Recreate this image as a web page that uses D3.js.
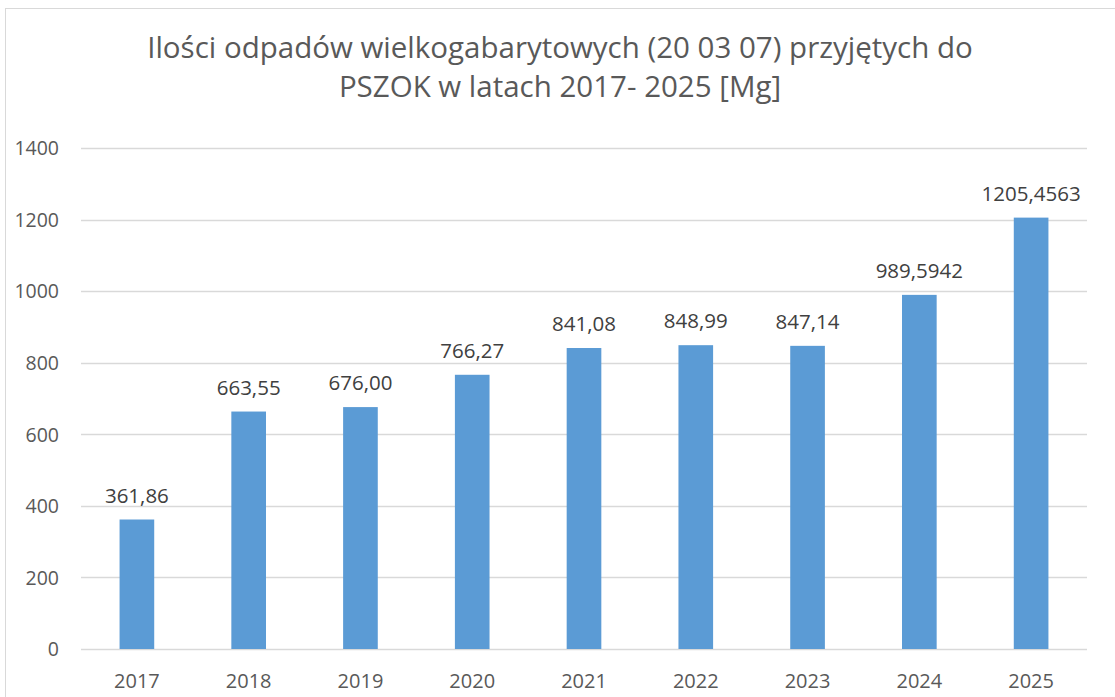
<!DOCTYPE html>
<html lang="pl">
<head>
<meta charset="UTF-8">
<title>Ilości odpadów wielkogabarytowych</title>
<style>
    body { margin: 0; padding: 0; background: #fff; overflow: hidden; }
    svg text { font-family: "Open Sans", "Noto Sans", sans-serif; fill: #595959; }
</style>
</head>
<body>
<script src="https://d3js.org/d3.v7.min.js"></script>
<script>
    // dane
    const years = ["2017", "2018", "2019", "2020", "2021", "2022", "2023", "2024", "2025"];
    const amounts = [361.86, 663.55, 676.00, 766.27, 841.08, 848.99, 847.14, 989.5942, 1205.4563];
    const amountLabels = ["361,86", "663,55", "676,00", "766,27", "841,08", "848,99", "847,14", "989,5942", "1205,4563"];
    const yTicks = [0, 200, 400, 600, 800, 1000, 1200, 1400];
    const titleLines = ["Ilości odpadów wielkogabarytowych (20 03 07) przyjętych do", "PSZOK w latach 2017- 2025 [Mg]"];

    const W = 1115, H = 697;
    const plotLeft = 81, plotRight = 1087, plotTop = 148, plotBottom = 649;

    const svg = d3.select("body").append("svg")
        .attr("width", W)
        .attr("height", H);

    // ramka wykresu
    svg.append("rect")
        .attr("x", 5.5).attr("y", 8.5)
        .attr("width", W + 10).attr("height", H + 10)
        .attr("fill", "none")
        .attr("stroke", "#d9d9d9");

    const x = d3.scaleBand()
        .domain(years)
        .range([plotLeft, plotRight])
        .paddingInner(0.69)
        .paddingOuter(0.345);

    const y = d3.scaleLinear()
        .domain([0, 1400])
        .range([plotBottom, plotTop]);

    // siatka
    svg.append("g")
        .selectAll("line")
        .data(yTicks)
        .enter().append("line")
        .attr("x1", plotLeft).attr("x2", plotRight)
        .attr("y1", d => Math.round(y(d)) + 0.5)
        .attr("y2", d => Math.round(y(d)) + 0.5)
        .attr("stroke", "#d9d9d9")
        .attr("stroke-width", 1.3);

    // słupki
    svg.append("g")
        .selectAll("rect")
        .data(amounts)
        .enter().append("rect")
        .attr("x", (d, i) => x(years[i]))
        .attr("width", x.bandwidth())
        .attr("y", d => y(d))
        .attr("height", d => y(0) - y(d))
        .attr("fill", "#5b9bd5");

    // etykiety danych
    svg.append("g")
        .selectAll("text")
        .data(amounts)
        .enter().append("text")
        .attr("x", (d, i) => x(years[i]) + x.bandwidth() / 2)
        .attr("y", d => y(d) - 17)
        .attr("text-anchor", "middle")
        .style("font-size", "20.5px")
        .style("fill", "#404040")
        .text((d, i) => amountLabels[i]);

    // oś Y
    const yAxis = svg.append("g")
        .attr("transform", "translate(" + (plotLeft - 22) + ",0)")
        .call(d3.axisLeft(y).tickValues(yTicks).tickFormat(d3.format("d")).tickSize(0).tickPadding(0));
    yAxis.select(".domain").remove();
    yAxis.selectAll("text").style("font-size", "19.5px").attr("dy", "0.35em");

    // oś X
    const xAxis = svg.append("g")
        .attr("transform", "translate(0," + plotBottom + ")")
        .call(d3.axisBottom(x).tickSize(0).tickPadding(0));
    xAxis.select(".domain").remove();
    xAxis.selectAll("text").style("font-size", "20px").attr("y", 39).attr("dy", 0);

    // tytuł
    svg.append("g")
        .selectAll("text")
        .data(titleLines)
        .enter().append("text")
        .attr("x", 560)
        .attr("y", (d, i) => 58 + i * 39)
        .attr("text-anchor", "middle")
        .style("font-size", "29.5px")
        .text(d => d);
</script>
</body>
</html>
